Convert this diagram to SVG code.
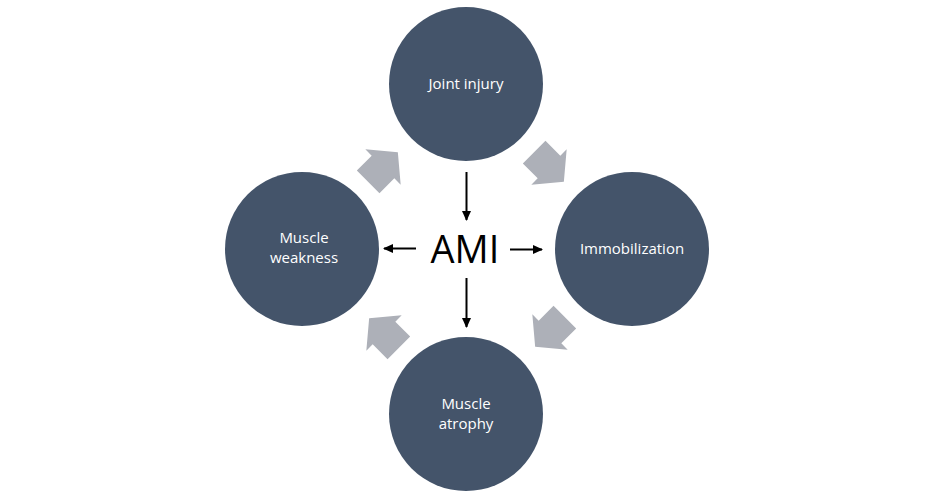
<svg xmlns="http://www.w3.org/2000/svg" width="950" height="500" viewBox="0 0 950 500">
  <defs>
    <style>
      .node { fill: #44546A; }
      .lbl { fill: #FFFFFF; font-family: "Open Sans", "Liberation Sans", sans-serif; font-size: 15px; text-anchor: middle; }
      .cyc { fill: #ADB0B8; }
      .conn { stroke: #000000; stroke-width: 2; fill: none; marker-end: url(#ah); }
    </style>
    <marker id="ah" markerUnits="userSpaceOnUse" markerWidth="10" markerHeight="9" refX="9" refY="4.5" orient="auto">
      <path d="M0,0 L10,4.5 L0,9 Z" fill="#000000"/>
    </marker>
    <path id="blk" d="M21,0 L0,25 L0,16 L-21,16 L-21,-16 L0,-16 L0,-25 Z"/>
  </defs>
  <rect width="950" height="500" fill="#FFFFFF"/>

  <g id="cycle-arrows">
    <use href="#blk" class="cyc" transform="translate(383,167) rotate(-45)"/>
    <use href="#blk" class="cyc" transform="translate(549,167) rotate(45)"/>
    <use href="#blk" class="cyc" transform="translate(550,332) rotate(135)"/>
    <use href="#blk" class="cyc" transform="translate(384,333) rotate(-135)"/>
  </g>

  <g id="joint-injury">
    <circle class="node" cx="466" cy="84" r="77"/>
    <text class="lbl" x="466" y="89">Joint injury</text>
  </g>
  <g id="immobilization">
    <circle class="node" cx="632" cy="249" r="77"/>
    <text class="lbl" x="632" y="254">Immobilization</text>
  </g>
  <g id="muscle-atrophy">
    <circle class="node" cx="466" cy="414" r="77"/>
    <text class="lbl" x="466" y="409">Muscle</text>
    <text class="lbl" x="466" y="429">atrophy</text>
  </g>
  <g id="muscle-weakness">
    <circle class="node" cx="302" cy="249" r="77"/>
    <text class="lbl" x="304" y="243">Muscle</text>
    <text class="lbl" x="304" y="263">weakness</text>
  </g>

  <g id="ami">
    <text x="465" y="263" font-family="'Open Sans', 'Liberation Sans', sans-serif" font-size="38" text-anchor="middle" fill="#000000">AMI</text>
  </g>

  <g id="connectors">
    <line class="conn" x1="466.5" y1="172" x2="466.5" y2="220"/>
    <line class="conn" x1="466.5" y1="278" x2="466.5" y2="327"/>
    <line class="conn" x1="416" y1="248.5" x2="384" y2="248.5"/>
    <line class="conn" x1="510" y1="249.5" x2="542" y2="249.5"/>
  </g>
</svg>
